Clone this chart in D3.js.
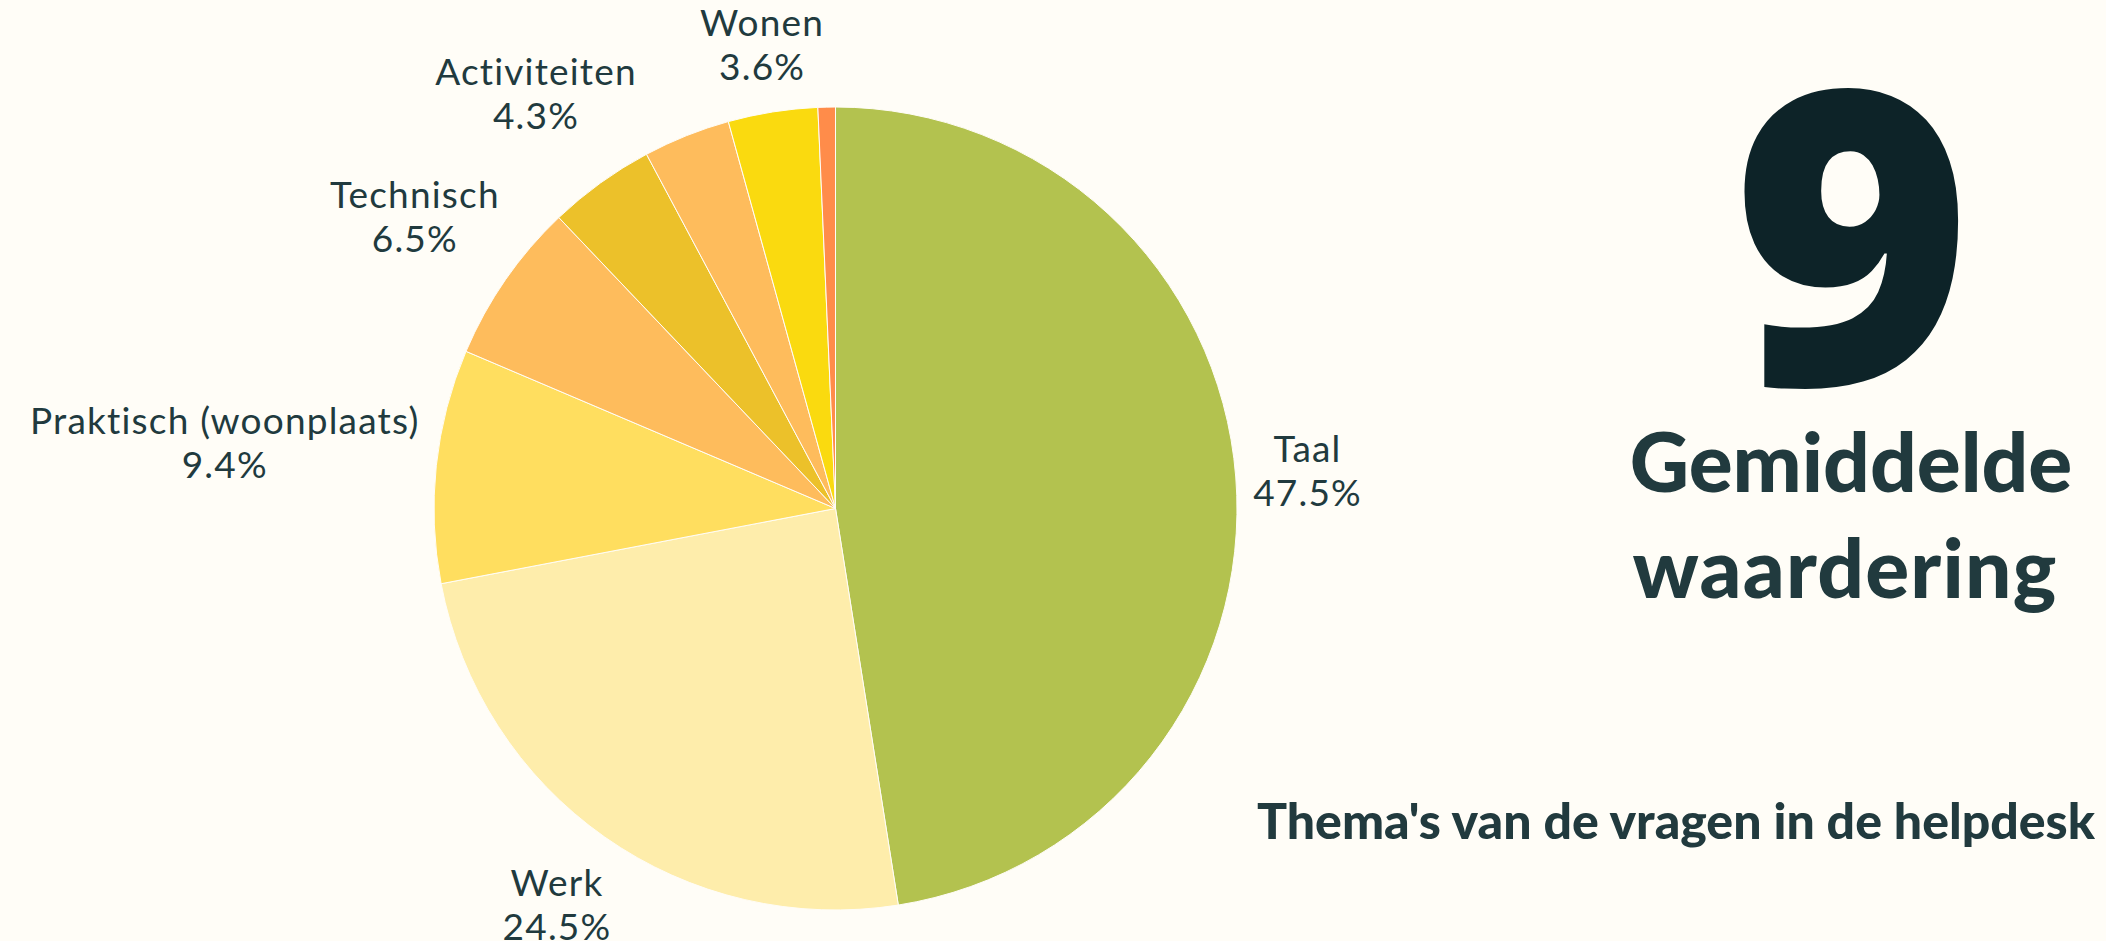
<!DOCTYPE html>
<html>
<head>
<meta charset="utf-8">
<script src="https://cdn.jsdelivr.net/npm/d3@7"></script>
<style>
  html, body { margin: 0; padding: 0; background: #fffdf7; }
  svg { display: block; }
</style>
</head>
<body>
<svg id="chart" width="2106" height="941"></svg>
<script>
// ---- data ----
const categories = ["Taal", "Werk", "Praktisch (woonplaats)", "Technisch", "Activiteiten", "Overig", "Wonen", "Anders"];
const values = [47.5, 24.5, 9.4, 6.5, 4.3, 3.5, 3.6, 0.7];
const colors = ["#b3c24f", "#feedab", "#ffde5f", "#febc5c", "#ecc12a", "#febc5c", "#fada0f", "#ff8c4a"];
const scoreValue = "9";
const scoreLines = ["Gemiddelde", "waardering"];
const title = "Thema's van de vragen in de helpdesk";

// ---- layout ----
const W = 2106, H = 941;
const cx = 835.5, cy = 508.5, R = 401.5;
const textColor = "#213a3e";
const labelFont = "Lato, 'Open Sans', sans-serif";
const labelSize = 37, lineH = 44, pad = 4, offset = 10, lift = 1.5;

const svg = d3.select("#chart");
svg.append("rect").attr("width", W).attr("height", H).attr("fill", "#fffdf7");

const data = categories.map((c, i) => ({ name: c, value: values[i], color: colors[i] }));
const pie = d3.pie().sort(null).value(d => d.value);
const arcs = pie(data);
const arc = d3.arc().innerRadius(0).outerRadius(R);

const g = svg.append("g").attr("transform", `translate(${cx},${cy})`);
g.selectAll("path").data(arcs).join("path")
  .attr("d", arc)
  .attr("fill", d => d.data.color)
  .attr("stroke", "#fffdf7")
  .attr("stroke-width", 1);

// ---- labels: outside, box touching a line at R+offset, hidden on collision ----
const fmt = d => d.toFixed(1) + "%";
const order = arcs.slice().sort((a, b) => b.data.value - a.data.value);
const placed = [];
const lg = g.append("g");
order.forEach(a => {
  const mid = (a.startAngle + a.endAngle) / 2;
  const vx = Math.sin(mid), vy = -Math.cos(mid);
  const t = lg.append("text")
    .attr("font-family", labelFont)
    .attr("font-size", labelSize)
    .attr("letter-spacing", 1.2)
    .attr("fill", textColor)
    .attr("text-anchor", "middle");
  t.append("tspan").attr("x", 0).attr("dy", 0).text(a.data.name);
  t.append("tspan").attr("x", 0).attr("dy", lineH).text(fmt(a.data.value));
  const bb = t.node().getBBox();
  const w = bb.width + 2 * pad, h = 2 * lineH + 2 * pad;
  const d = R + offset + Math.abs(vx) * w / 2 + Math.abs(vy) * h / 2;
  const px = d * vx, py = d * vy;
  const box = { x0: px - w / 2, x1: px + w / 2, y0: py - h / 2, y1: py + h / 2 };
  const hit = placed.some(b => !(box.x1 < b.x0 || box.x0 > b.x1 || box.y1 < b.y0 || box.y0 > b.y1));
  if (hit) { t.remove(); return; }
  placed.push(box);
  t.attr("transform", `translate(${px},${py - lineH / 2 - lift})`);
  t.selectAll("tspan").attr("dominant-baseline", "central");
});

// ---- score block ----
svg.append("text")
  .attr("x", 1852).attr("y", 385)
  .attr("text-anchor", "middle")
  .attr("font-family", "'Open Sans', Lato, sans-serif")
  .attr("font-weight", 800)
  .attr("font-size", 410)
  .attr("fill", "#0d2328")
  .text(scoreValue);

svg.append("text")
  .attr("x", 1851).attr("y", 492)
  .attr("text-anchor", "middle")
  .attr("font-family", "Lato, sans-serif")
  .attr("font-weight", 900)
  .attr("font-size", 82)
  .attr("fill", "#213a3e")
  .text(scoreLines[0]);

svg.append("text")
  .attr("x", 1845).attr("y", 598)
  .attr("text-anchor", "middle")
  .attr("font-family", "Lato, sans-serif")
  .attr("font-weight", 900)
  .attr("font-size", 82)
  .attr("letter-spacing", 1.2)
  .attr("fill", "#213a3e")
  .text(scoreLines[1]);

svg.append("text")
  .attr("x", 2095).attr("y", 839)
  .attr("text-anchor", "end")
  .attr("font-family", "Lato, sans-serif")
  .attr("font-weight", 900)
  .attr("font-size", 50)
  .attr("fill", "#213a3e")
  .text(title);
</script>
</body>
</html>
